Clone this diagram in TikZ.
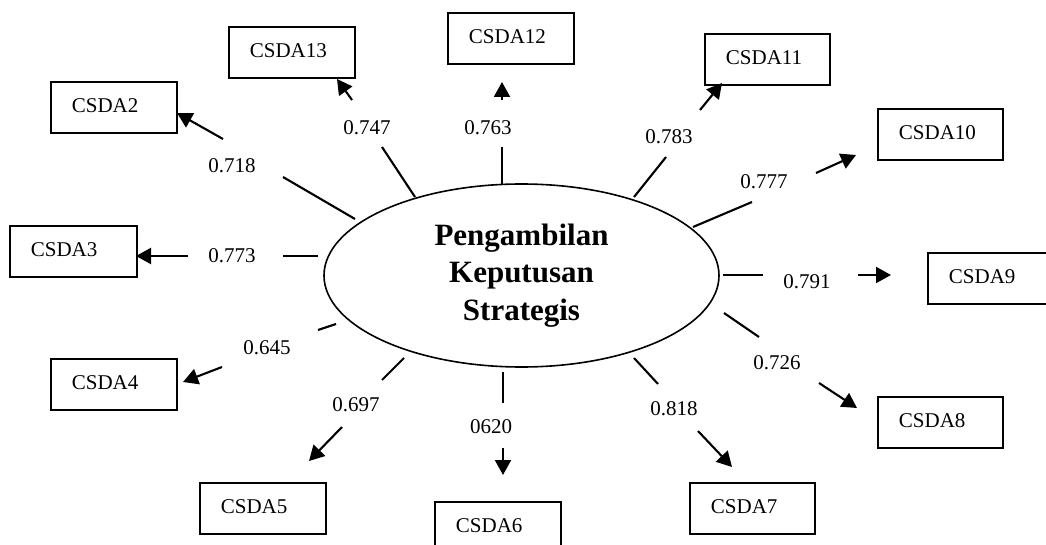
\documentclass[tikz,border=0pt]{standalone}
\usepackage{fontspec}
\setmainfont{Liberation Serif}
\usetikzlibrary{arrows.meta,shapes.geometric}
\begin{document}
\begin{tikzpicture}[x=1pt,y=-1pt,
  seg/.style={line width=2.1pt},
  arr/.style={line width=2.1pt,-{Triangle[length=15pt,width=16pt]}},
  box/.style={draw,line width=1.8pt,anchor=north west,inner xsep=21pt,inner ysep=0pt,
    minimum height=51pt,text height=15pt,text depth=5pt,align=left,
    font=\fontsize{21}{25}\selectfont},
  lab/.style={font=\fontsize{21}{25}\selectfont,inner sep=0pt},
  ell/.style={draw,ellipse,line width=1.6pt,minimum width=395pt,minimum height=183pt,
    inner sep=0pt,align=center,font=\fontsize{31}{37.5}\selectfont\bfseries}]
\useasboundingbox (0,0) rectangle (1046,545);
\clip (0,0) rectangle (1046,545);
\fill[white] (0,0) rectangle (1046,545);
% boxes
\foreach \n/\l/\t/\r/\txt in {
  13/228/26/354/CSDA13, 12/447/12/573/CSDA12, 11/704/33/829/CSDA11,
  10/877/108/1002/CSDA10, 9/927/252/1065/CSDA9, 8/877/396/1002/CSDA8,
  7/689/482/814/CSDA7, 6/434/501/560/CSDA6, 5/199/482/325/CSDA5,
  4/50/358/176/CSDA4, 3/9/225/136/CSDA3, 2/50/81/176/CSDA2}{
  \pgfmathsetmacro\tw{\r-\l-42}
  \node[box,text width=\tw pt] (b\n) at (\l,\t) {\txt};
}
% latent variable
\node[ell] (e) at (521.5,275.5) {Pengambilan\\Keputusan\\Strategis};
% connectors
\foreach \n/\sx/\sy/\tx/\ty/\ux/\uy/\vx/\vy/\lx/\ly/\val in {
  13/415/197/382/147/352/100/337/79/367/128/0.747,
  12/502/184/502/147/502/100/502/82/488/128/0.763,
  11/634/197/666/157/700/110/722/83/669/137/0.783,
  10/693/227/752/202/816/173/856/155/764/182/0.777,
  9/723/275/763/275/858/275/891/275/807/282/0.791,
  8/724/313/759/337/819/383/857/408/777/363/0.726,
  7/634/358/658/384/698/431/732/467/674/409/0.818,
  6/503/372/503/403/503/448/503/475/491/427/0620,
  5/404/358/382/380/342/427/309/461/356/405/0.697,
  4/336/324/318/330/222/367/183/382/267/348/0.645,
  3/318/256/283/256/188/256/136/256/232/256/0.773,
  2/355/219/283/177/223/139/177/113/232/166/0.718}{
  \coordinate (s\n) at (\sx,\sy);
  \coordinate (t\n) at (\tx,\ty);
  \coordinate (u\n) at (\ux,\uy);
  \coordinate (v\n) at (\vx,\vy);
  \draw[seg] (s\n) -- (t\n);
  \draw[arr] (u\n) -- (v\n);
  \node[lab] (l\n) at (\lx,\ly) {\val};
}
\end{tikzpicture}
\end{document}
